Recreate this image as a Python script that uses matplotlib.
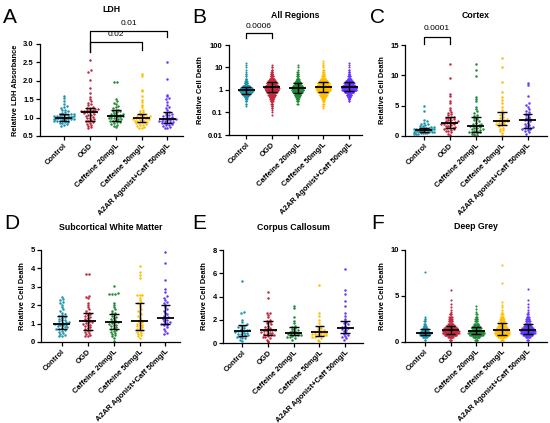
import matplotlib.pyplot as plt
import numpy as np

plt.rcParams['font.family'] = ['Liberation Sans', 'DejaVu Sans']

groups = ['Control', 'OGD', 'Caffeine 20mg/L', 'Caffeine 50mg/L', 'A2AR Agonist+Caff 50mg/L']
colors = ['#1b93ad', '#c3283f', '#1f8b37', '#ffbf00', '#6636ff']

# ---- A: LDH ----
a_control = [0.78, 0.8, 0.82, 0.84, 0.86, 0.87, 0.88, 0.9, 0.91, 0.92, 0.93, 0.94, 0.95, 0.95, 0.96, 0.97,
             0.97, 0.98, 0.98, 0.99, 0.99, 1.0, 1.0, 1.0, 1.01, 1.01, 1.02, 1.02, 1.03, 1.04, 1.04, 1.05,
             1.06, 1.07, 1.08, 1.09, 1.1, 1.11, 1.13, 1.15, 1.17, 1.2, 1.22, 1.25, 1.28, 1.32, 1.38,
             1.45, 1.52, 1.6]
a_ogd = [0.71, 0.74, 0.77, 0.8, 0.83, 0.86, 0.88, 0.9, 0.92, 0.94, 0.96, 0.98, 1.0, 1.02, 1.04, 1.06,
         1.08, 1.1, 1.12, 1.14, 1.15, 1.16, 1.17, 1.18, 1.19, 1.2, 1.21, 1.22, 1.23, 1.24, 1.25, 1.27,
         1.3, 1.33, 1.37, 1.4, 1.45, 1.5, 1.55, 1.66, 1.8, 2.02, 2.24, 2.29, 2.56]
a_caf20 = [0.75, 0.78, 0.8, 0.83, 0.85, 0.87, 0.89, 0.9, 0.92, 0.93, 0.95, 0.96, 0.98, 0.99, 1.0, 1.01,
           1.02, 1.03, 1.04, 1.05, 1.06, 1.07, 1.08, 1.1, 1.11, 1.13, 1.15, 1.17, 1.19, 1.2, 1.22, 1.25,
           1.28, 1.32, 1.36, 1.4, 1.45, 1.5, 1.96, 1.97]
a_caf50 = [0.71, 0.73, 0.75, 0.77, 0.79, 0.8, 0.82, 0.84, 0.85, 0.87, 0.88, 0.89, 0.9, 0.92, 0.93, 0.94,
           0.95, 0.96, 0.97, 0.98, 0.99, 1.0, 1.01, 1.02, 1.03, 1.05, 1.06, 1.08, 1.1, 1.12, 1.15, 1.18,
           1.22, 1.28, 1.35, 1.42, 1.47, 1.6, 1.72, 1.75, 2.12, 2.18]
a_a2ar = [0.71, 0.73, 0.75, 0.77, 0.79, 0.8, 0.82, 0.84, 0.85, 0.86, 0.88, 0.89, 0.9, 0.91, 0.92, 0.93,
          0.94, 0.95, 0.96, 0.97, 0.98, 1.0, 1.02, 1.04, 1.06, 1.08, 1.1, 1.13, 1.16, 1.2, 1.25, 1.3,
          1.35, 1.42, 1.5, 1.52, 1.6, 1.62, 2.06, 2.51]
a_median = [1.0, 1.16, 1.04, 0.98, 0.96]
a_q1 = [0.92, 0.92, 0.92, 0.89, 0.86]
a_q3 = [1.09, 1.27, 1.2, 1.09, 1.16]

# ---- B: All Regions (dense, counts per level) ----
b_levels = [0.08, 0.1, 0.13, 0.16, 0.2, 0.25, 0.32, 0.4, 0.5, 0.63, 0.8, 1.0, 1.26, 1.58,
            2.0, 2.5, 3.2, 4.0, 5.0, 6.3, 8.0, 10, 12.6, 16, 20]
b_control = [0, 0, 0, 0, 1, 2, 3, 5, 10, 22, 45, 60, 45, 25, 12, 6, 4, 2, 2, 1, 1, 1, 1, 1, 0]
b_ogd = [1, 1, 1, 2, 3, 5, 8, 12, 18, 28, 40, 50, 55, 50, 40, 28, 18, 10, 6, 4, 3, 2, 1, 0, 0]
b_caf20 = [0, 0, 0, 0, 0, 2, 4, 8, 14, 24, 36, 45, 45, 36, 26, 15, 9, 5, 3, 2, 1, 1, 1, 0, 0]
b_caf50 = [0, 0, 0, 1, 2, 3, 5, 9, 16, 28, 42, 55, 60, 55, 45, 30, 18, 10, 6, 4, 3, 2, 2, 1, 1]
b_a2ar = [0, 0, 0, 0, 0, 0, 2, 4, 8, 18, 35, 55, 60, 50, 38, 24, 13, 7, 4, 3, 2, 1, 1, 1, 0]
b_median = [1.0, 1.4, 1.18, 1.4, 1.3]
b_q1 = [0.67, 0.84, 0.76, 0.79, 0.93]
b_q3 = [1.4, 2.2, 1.97, 2.3, 2.2]

# ---- C: Cortex ----
c_control = [0.3, 0.35, 0.4, 0.45, 0.5, 0.5, 0.55, 0.6, 0.6, 0.65, 0.7, 0.7, 0.75, 0.8, 0.8, 0.85,
             0.9, 0.9, 0.95, 1.0, 1.0, 1.0, 1.05, 1.1, 1.1, 1.15, 1.2, 1.2, 1.25, 1.3, 1.35, 1.4,
             1.45, 1.5, 1.6, 1.7, 1.8, 1.9, 2.0, 2.2, 2.4, 2.6, 4.2, 5.0]
c_ogd = [0.2, 0.4, 0.6, 0.8, 0.9, 1.0, 1.1, 1.2, 1.3, 1.3, 1.4, 1.5, 1.6, 1.7, 1.8, 1.9, 2.0, 2.0,
         2.1, 2.1, 2.2, 2.3, 2.4, 2.5, 2.6, 2.7, 2.8, 2.9, 3.0, 3.1, 3.2, 3.4, 3.6, 3.8, 4.0, 4.3,
         4.6, 5.4, 5.7, 6.6, 7.0, 9.5, 11.9]
c_caf20 = [0.1, 0.2, 0.3, 0.4, 0.5, 0.6, 0.7, 0.7, 0.8, 0.9, 1.0, 1.1, 1.2, 1.3, 1.4, 1.5, 1.6, 1.7,
           1.7, 1.8, 1.9, 2.0, 2.2, 2.4, 2.6, 2.8, 3.0, 3.1, 3.3, 3.5, 3.8, 4.1, 4.5, 4.8, 5.8, 6.1,
           6.5, 9.9, 10.8, 11.9]
c_caf50 = [0.2, 0.5, 0.8, 1.0, 1.2, 1.4, 1.6, 1.8, 1.9, 2.0, 2.1, 2.2, 2.3, 2.4, 2.5, 2.5, 2.6, 2.7,
           2.8, 3.0, 3.2, 3.4, 3.6, 3.9, 4.3, 4.8, 5.4, 5.9, 6.5, 7.2, 8.9, 11.4, 12.8]
c_a2ar = [0.3, 0.6, 0.8, 1.0, 1.1, 1.2, 1.3, 1.3, 1.4, 1.5, 1.6, 1.8, 2.0, 2.2, 2.4, 2.6, 2.7, 2.8,
          3.0, 3.2, 3.4, 3.6, 3.7, 3.9, 4.2, 4.5, 4.8, 5.1, 5.4, 6.6, 8.4, 8.8]
c_median = [1.0, 2.1, 1.7, 2.5, 2.6]
c_q1 = [0.6, 1.3, 0.7, 1.8, 1.3]
c_q3 = [1.4, 3.1, 3.1, 3.9, 3.7]

# ---- D: Subcortical White Matter ----
d_control = [0.3, 0.35, 0.4, 0.45, 0.5, 0.55, 0.6, 0.65, 0.7, 0.7, 0.75, 0.8, 0.8, 0.85, 0.9, 0.9,
             0.95, 1.0, 1.0, 1.0, 1.05, 1.1, 1.1, 1.15, 1.2, 1.2, 1.25, 1.3, 1.35, 1.4, 1.45, 1.5,
             1.6, 1.7, 1.8, 1.9, 2.0, 2.1, 2.2, 2.3, 2.35, 2.42]
d_ogd = [0.3, 0.35, 0.4, 0.45, 0.5, 0.55, 0.6, 0.65, 0.7, 0.75, 0.8, 0.85, 0.9, 0.95, 1.0, 1.05,
         1.1, 1.1, 1.15, 1.2, 1.25, 1.3, 1.35, 1.4, 1.45, 1.5, 1.55, 1.6, 1.7, 1.8, 1.9, 2.0, 2.1,
         2.38, 2.44, 2.5, 3.68, 3.72]
d_caf20 = [0.05, 0.2, 0.3, 0.4, 0.45, 0.5, 0.55, 0.6, 0.65, 0.7, 0.75, 0.8, 0.85, 0.9, 0.95, 1.0,
           1.05, 1.1, 1.1, 1.15, 1.2, 1.25, 1.3, 1.35, 1.4, 1.5, 1.55, 1.6, 1.7, 1.8, 1.9, 2.0, 2.1,
           2.6, 2.6, 2.62, 2.65, 3.07]
d_caf50 = [0.2, 0.3, 0.4, 0.45, 0.5, 0.55, 0.6, 0.65, 0.7, 0.75, 0.8, 0.85, 0.9, 0.95, 1.0, 1.05,
           1.1, 1.15, 1.2, 1.3, 1.4, 1.5, 1.6, 1.7, 1.8, 1.9, 2.0, 2.1, 2.2, 2.3, 2.4, 2.56, 2.56,
           2.56, 3.5, 3.65, 3.8, 4.13]
d_a2ar = [0.43, 0.5, 0.6, 0.7, 0.8, 0.9, 0.95, 1.0, 1.0, 1.05, 1.1, 1.15, 1.2, 1.25, 1.3, 1.35,
          1.4, 1.5, 1.6, 1.7, 1.8, 1.9, 2.0, 2.1, 2.2, 2.3, 2.4, 2.5, 2.74, 2.87, 3.38, 4.28, 4.87]
d_median = [1.0, 1.12, 1.08, 1.12, 1.3]
d_q1 = [0.7, 0.67, 0.72, 0.67, 1.0]
d_q3 = [1.39, 1.57, 1.52, 2.11, 1.99]

# ---- E: Corpus Callosum ----
e_control = [0.2, 0.3, 0.4, 0.45, 0.5, 0.55, 0.6, 0.65, 0.7, 0.75, 0.8, 0.85, 0.9, 0.95, 1.0, 1.0,
             1.05, 1.1, 1.15, 1.2, 1.3, 1.4, 1.45, 1.5, 1.6, 1.8, 1.95, 2.55, 2.7, 5.33]
e_ogd = [0.05, 0.2, 0.3, 0.4, 0.5, 0.55, 0.6, 0.65, 0.7, 0.75, 0.8, 0.85, 0.9, 0.95, 1.0, 1.05,
         1.1, 1.1, 1.15, 1.2, 1.3, 1.4, 1.5, 1.6, 1.7, 1.8, 1.9, 2.0, 2.2, 2.4, 2.6, 2.6, 3.9, 4.4]
e_caf20 = [0.3, 0.4, 0.5, 0.55, 0.6, 0.65, 0.7, 0.7, 0.75, 0.8, 0.85, 0.9, 0.9, 0.95, 1.0, 1.05,
           1.1, 1.2, 1.3, 1.4, 1.5, 1.7, 1.9, 2.2, 3.0, 3.2]
e_caf50 = [0.2, 0.3, 0.4, 0.5, 0.55, 0.6, 0.65, 0.7, 0.7, 0.75, 0.8, 0.8, 0.85, 0.9, 0.9, 0.95,
           1.0, 1.05, 1.1, 1.2, 1.3, 1.4, 1.5, 1.7, 2.0, 2.3, 2.55, 5.0]
e_a2ar = [0.3, 0.4, 0.5, 0.6, 0.7, 0.8, 0.9, 1.0, 1.1, 1.2, 1.25, 1.3, 1.4, 1.5, 1.6, 1.7, 1.8,
          1.9, 2.1, 2.3, 2.6, 3.2, 3.6, 4.2, 4.6, 6.33]
e_median = [1.03, 1.1, 0.9, 0.92, 1.26]
e_q1 = [0.63, 0.7, 0.7, 0.63, 0.9]
e_q3 = [1.55, 1.9, 1.4, 1.46, 1.9]

# ---- F: Deep Grey (dense part as counts, plus sparse high values) ----
f_levels = [0.25, 0.5, 0.75, 1.0, 1.25, 1.5, 1.75, 2.0, 2.25, 2.5, 2.75, 3.0]
f_control = [2, 8, 18, 22, 14, 8, 5, 3, 3, 2, 1, 0]
f_ogd = [4, 10, 22, 30, 30, 24, 16, 10, 8, 6, 5, 4]
f_caf20 = [5, 12, 24, 30, 26, 18, 12, 8, 5, 4, 3, 2]
f_caf50 = [6, 14, 24, 28, 26, 20, 15, 12, 10, 8, 6, 4]
f_a2ar = [3, 8, 18, 26, 26, 20, 14, 10, 8, 6, 5, 3]
f_control_high = [7.6]
f_ogd_high = [3.3, 3.5, 3.8, 4.1, 4.6, 5.6]
f_caf20_high = [3.3, 3.6, 3.95]
f_caf50_high = [3.3, 3.5, 3.8, 4.0, 4.3, 6.4, 8.4]
f_a2ar_high = [3.3, 3.5, 3.8, 4.1, 4.56, 5.76]
f_median = [1.0, 1.3, 1.23, 1.3, 1.3]
f_q1 = [0.76, 0.87, 0.87, 0.76, 0.87]
f_q3 = [1.38, 1.74, 1.67, 2.03, 1.92]

W, H = 550, 423
fig = plt.figure(figsize=(W / 100, H / 100), dpi=100)


def make_axes(left, top, right, bottom):
    return fig.add_axes([left / W, 1 - bottom / H, (right - left) / W, (bottom - top) / H])


def swarm(ax, values, center, color, spacing, max_half, row, size):
    values = np.sort(np.asarray(values, dtype=float))
    ypx = ax.transData.transform(np.column_stack([np.zeros_like(values), values]))[:, 1]
    px_unit = ax.transData.transform([[1, 0]])[0, 0] - ax.transData.transform([[0, 0]])[0, 0]
    bins = np.floor(ypx / row).astype(int)
    xs = np.zeros_like(values)
    for b in np.unique(bins):
        idx = np.where(bins == b)[0]
        n = len(idx)
        dx = spacing if n < 2 else min(spacing, 2 * max_half / (n - 1))
        xs[idx] = (np.arange(n) - (n - 1) / 2) * dx
    ax.scatter(center + xs / px_unit, values, s=size, color=color, linewidths=0, zorder=2, clip_on=False)


def summary(ax, med, q1, q3):
    x = np.arange(len(med))
    ax.hlines(med, x - 0.33, x + 0.33, color='black', lw=1.3, zorder=3)
    ax.vlines(x, q1, q3, color='black', lw=1.0, zorder=3)
    ax.hlines(q1, x - 0.19, x + 0.19, color='black', lw=1.0, zorder=3)
    ax.hlines(q3, x - 0.19, x + 0.19, color='black', lw=1.0, zorder=3)


def style(ax, title, ylabel, title_y):
    for s in ['top', 'right']:
        ax.spines[s].set_visible(False)
    for s in ['left', 'bottom']:
        ax.spines[s].set_linewidth(0.9)
    ax.tick_params(width=0.9, length=3, labelsize=5.5, pad=1.5)
    ax.set_xticks(range(len(groups)))
    ax.set_xticklabels(groups, rotation=45, ha='right', rotation_mode='anchor',
                       fontweight='bold', fontsize=5.5)
    for lab in ax.get_yticklabels():
        lab.set_fontweight('bold')
    ax.set_ylabel(ylabel, fontsize=5.4, fontweight='bold', labelpad=3)
    ax.text(0.5, title_y, title, transform=ax.transAxes, ha='center', va='center',
            fontsize=6.3, fontweight='bold')


def bracket(ax, g1, g2, y, y_left, y_right, label, label_y):
    tr = ax.get_xaxis_transform()
    ax.plot([g1, g1, g2, g2], [y_left, y, y, y_right], color='black', lw=0.9,
            transform=tr, clip_on=False)
    ax.text((g1 + g2) / 2, label_y, label, transform=tr, ha='center', va='center', fontsize=6)


# A
axA = make_axes(40, 44, 183, 136)
axA.set_xlim(-0.92, 4.6)
axA.set_ylim(0.5, 3.0)
axA.set_yticks([0.5, 1.0, 1.5, 2.0, 2.5, 3.0])
axA.set_yticklabels(['0.5', '1.0', '1.5', '2.0', '2.5', '3.0'])
for i, vals in enumerate([a_control, a_ogd, a_caf20, a_caf50, a_a2ar]):
    swarm(axA, vals, i, colors[i], 2.8, 10, 2.6, 3.2)
summary(axA, a_median, a_q1, a_q3)
style(axA, 'LDH', 'Relative LDH Absorbance', 1.377)
bracket(axA, 1, 4, 1.141, 0.913, 1.076, '0.01', 1.228)
bracket(axA, 1, 3, 1.018, 0.913, 0.935, '0.02', 1.098)

# B
axB = make_axes(229, 45, 362, 135)
axB.set_yscale('log')
axB.set_xlim(-0.66, 4.5)
axB.set_ylim(0.01, 100)
axB.set_yticks([0.01, 0.1, 1, 10, 100])
axB.set_yticklabels(['0.01', '0.1', '1', '10', '100'])
axB.yaxis.set_minor_locator(plt.NullLocator())
for i, cnt in enumerate([b_control, b_ogd, b_caf20, b_caf50, b_a2ar]):
    swarm(axB, np.repeat(b_levels, cnt), i, colors[i], 0.25, 7, 2.2, 2.2)
summary(axB, b_median, b_q1, b_q3)
style(axB, 'All Regions', 'Relative Cell Death', 1.333)
bracket(axB, 0, 1, 1.133, 1.078, 1.078, '0.0006', 1.211)

# C
axC = make_axes(405, 45, 547, 136)
axC.set_xlim(-0.73, 4.75)
axC.set_ylim(0, 15)
axC.set_yticks([0, 5, 10, 15])
for i, vals in enumerate([c_control, c_ogd, c_caf20, c_caf50, c_a2ar]):
    swarm(axC, vals, i, colors[i], 2.8, 10, 2.6, 3.2)
summary(axC, c_median, c_q1, c_q3)
style(axC, 'Cortex', 'Relative Cell Death', 1.323)
bracket(axC, 0, 1, 1.088, 1.011, 1.011, '0.0001', 1.176)

# D
axD = make_axes(41, 250, 180, 342)
axD.set_xlim(-0.8, 4.56)
axD.set_ylim(0, 5)
axD.set_yticks([0, 1, 2, 3, 4, 5])
for i, vals in enumerate([d_control, d_ogd, d_caf20, d_caf50, d_a2ar]):
    swarm(axD, vals, i, colors[i], 2.8, 10, 2.6, 3.2)
summary(axD, d_median, d_q1, d_q3)
style(axD, 'Subcortical White Matter', 'Relative Cell Death', 1.24)

# E
axE = make_axes(223, 250, 363, 343)
axE.set_xlim(-0.76, 4.7)
axE.set_ylim(0, 8)
axE.set_yticks([0, 2, 4, 6, 8])
for i, vals in enumerate([e_control, e_ogd, e_caf20, e_caf50, e_a2ar]):
    swarm(axE, vals, i, colors[i], 2.8, 10, 2.6, 3.2)
summary(axE, e_median, e_q1, e_q3)
style(axE, 'Corpus Callosum', 'Relative Cell Death', 1.237)

# F
axF = make_axes(405, 250, 547, 342)
axF.set_xlim(-0.77, 4.75)
axF.set_ylim(0, 10)
axF.set_yticks([0, 5, 10])
f_sets = [(f_control, f_control_high), (f_ogd, f_ogd_high), (f_caf20, f_caf20_high),
          (f_caf50, f_caf50_high), (f_a2ar, f_a2ar_high)]
for i, (cnt, high) in enumerate(f_sets):
    vals = np.concatenate([np.repeat(f_levels, cnt), high])
    swarm(axF, vals, i, colors[i], 0.55, 8, 2.3, 2.4)
summary(axF, f_median, f_q1, f_q3)
style(axF, 'Deep Grey', 'Relative Cell Death', 1.26)

# panel letters
for letter, (px, py) in zip('ABCDEF', [(3, 8), (192, 8), (370, 8), (4, 214), (192, 214), (371, 214)]):
    fig.text(px / W, 1 - py / H, letter, fontsize=15, va='top', ha='left')

fig.savefig('out.png', dpi=100)
